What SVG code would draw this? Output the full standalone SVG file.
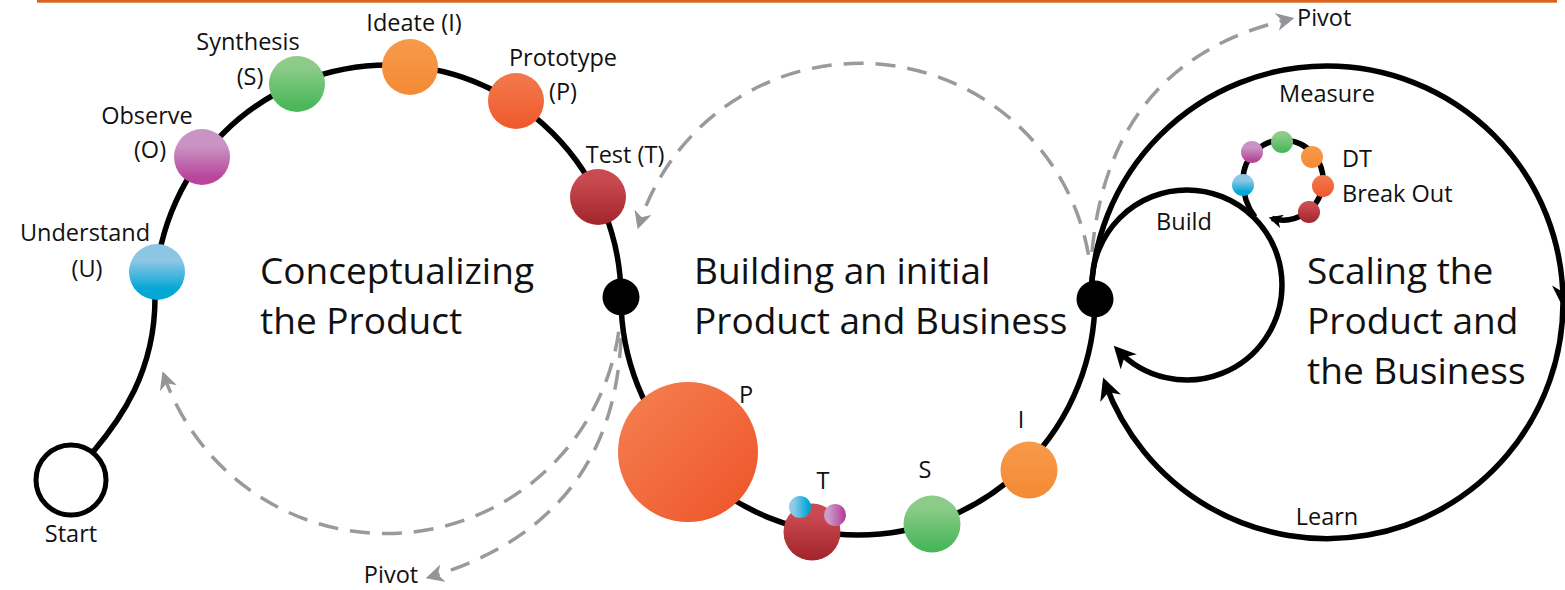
<svg xmlns="http://www.w3.org/2000/svg" width="1565" height="590" viewBox="0 0 1565 590">
<style>
.lbl{font-family:"Open Sans","Noto Sans","Liberation Sans",sans-serif;font-size:23.5px;fill:#111}
.ttl{font-family:"Open Sans","Noto Sans","Liberation Sans",sans-serif;font-size:37px;fill:#111}
.blk{fill:none;stroke:#000;stroke-width:5.5}
.dash{fill:none;stroke:#999a9c;stroke-width:3.5;stroke-dasharray:20 12}
.dot{fill:#000}
</style>
<defs>
<linearGradient id="gBlue" x1="0" y1="0.3" x2="0" y2="0.8"><stop offset="0" stop-color="#8dc6e4"/><stop offset="1" stop-color="#05a7d6"/></linearGradient>
<linearGradient id="gPurple" x1="0" y1="0.3" x2="0" y2="0.85"><stop offset="0" stop-color="#c994c5"/><stop offset="1" stop-color="#b8479b"/></linearGradient>
<linearGradient id="gGreen" x1="0" y1="0.2" x2="0" y2="0.9"><stop offset="0" stop-color="#8ccb88"/><stop offset="1" stop-color="#4bb75b"/></linearGradient>
<linearGradient id="gOrange" x1="0" y1="0" x2="0" y2="1"><stop offset="0" stop-color="#f79a4a"/><stop offset="1" stop-color="#f48a34"/></linearGradient>
<linearGradient id="gRedOr" x1="0" y1="0" x2="0" y2="1"><stop offset="0" stop-color="#f27a4c"/><stop offset="1" stop-color="#f0592c"/></linearGradient>
<linearGradient id="gRed" x1="0" y1="0.2" x2="0" y2="1"><stop offset="0" stop-color="#c94a50"/><stop offset="1" stop-color="#a2242c"/></linearGradient>
<linearGradient id="gBig" x1="0.15" y1="0.15" x2="0.85" y2="0.85"><stop offset="0" stop-color="#f47a4c"/><stop offset="1" stop-color="#ef5a2e"/></linearGradient>
<linearGradient id="gBlueH" x1="0" y1="0" x2="1" y2="0"><stop offset="0.2" stop-color="#8fcbe8"/><stop offset="0.9" stop-color="#00a5d5"/></linearGradient>
<linearGradient id="gPurpleH" x1="0" y1="0" x2="1" y2="0"><stop offset="0.2" stop-color="#cc9bca"/><stop offset="0.9" stop-color="#b5449a"/></linearGradient>
<marker id="arrG" viewBox="0 0 12 12" refX="9" refY="6" markerWidth="18" markerHeight="18" markerUnits="userSpaceOnUse" orient="auto">
<path d="M0,0 L12,6 L0,12 L3.5,6 z" fill="#939598"/>
</marker>
<marker id="arrB" viewBox="0 0 12 12" refX="9" refY="6" markerWidth="22" markerHeight="22" markerUnits="userSpaceOnUse" orient="auto">
<path d="M0,0 L12,6 L0,12 L3.5,6 z" fill="#000"/>
</marker>
<marker id="arrBs" viewBox="0 0 12 12" refX="9" refY="6" markerWidth="14" markerHeight="14" markerUnits="userSpaceOnUse" orient="auto">
<path d="M0,0 L12,6 L0,12 L3.5,6 z" fill="#000"/>
</marker>
</defs>
<rect width="1565" height="590" fill="#fff"/>
<rect x="37" y="0" width="1520" height="2.7" fill="#d9641e"/>

<g id="connectors">
<path class="dash" d="M1088.5 254.7 A232 232 0 0 0 639 225" marker-end="url(#arrG)"/>
<path class="dash" d="M618.7 331.7 A235 235 0 0 1 164 375.5" marker-end="url(#arrG)"/>
<path class="dash" d="M621 338 Q613 522 430 577" marker-end="url(#arrG)"/>
<path class="dash" d="M1092 252 Q1110 60 1290 19" marker-end="url(#arrG)"/>
<path class="blk" d="M93 452 C120 420 155 372 155 298 A233 233 0 0 1 621 298 A237 237 0 0 0 1095 298"/>
<path class="blk" d="M1091 302 A236 236 0 0 1 1563 302 A236 236 0 0 1 1105 382.7" marker-mid="url(#arrB)" marker-end="url(#arrB)"/>
<path class="blk" stroke-width="5" d="M1092 285 A95 95 0 0 1 1282 285 A95 95 0 0 1 1117.5 349.8" marker-end="url(#arrB)"/>
<path class="blk" stroke-width="3.5" d="M1255 217 C1248 208 1243 196 1243 180 A40 40 0 1 1 1272 218.5" marker-end="url(#arrBs)"/>
</g>

<g id="node-start">
<circle cx="71" cy="480" r="35" fill="#fff" stroke="#000" stroke-width="5"/>
<text class="lbl" x="71" y="542" text-anchor="middle">Start</text>
</g>
<g id="node-understand">
<circle cx="157" cy="272" r="28" fill="url(#gBlue)"/>
<text class="lbl" x="85" y="241" text-anchor="middle">Understand</text>
<text class="lbl" x="87" y="277" text-anchor="middle">(U)</text>
</g>
<g id="node-observe">
<circle cx="202" cy="157" r="28" fill="url(#gPurple)"/>
<text class="lbl" x="147" y="124" text-anchor="middle">Observe</text>
<text class="lbl" x="150" y="158" text-anchor="middle">(O)</text>
</g>
<g id="node-synthesis">
<circle cx="297" cy="84" r="28" fill="url(#gGreen)"/>
<text class="lbl" x="248" y="50" text-anchor="middle">Synthesis</text>
<text class="lbl" x="250" y="85" text-anchor="middle">(S)</text>
</g>
<g id="node-ideate">
<circle cx="410" cy="67" r="28" fill="url(#gOrange)"/>
<text class="lbl" x="414" y="31" text-anchor="middle">Ideate (I)</text>
</g>
<g id="node-prototype">
<circle cx="516" cy="101" r="28" fill="url(#gRedOr)"/>
<text class="lbl" x="563" y="66" text-anchor="middle">Prototype</text>
<text class="lbl" x="563" y="100" text-anchor="middle">(P)</text>
</g>
<g id="node-test">
<circle cx="598" cy="197" r="28" fill="url(#gRed)"/>
<text class="lbl" x="625" y="163" text-anchor="middle">Test (T)</text>
</g>
<g id="node-junction1"><circle class="dot" cx="621" cy="297" r="18.5"/></g>
<g id="node-junction2"><circle class="dot" cx="1095" cy="299" r="18.5"/></g>

<g id="node-p">
<circle cx="688" cy="452" r="70" fill="url(#gBig)"/>
<text class="lbl" x="746" y="403" text-anchor="middle">P</text>
</g>
<g id="node-t">
<circle cx="812" cy="532" r="28.5" fill="url(#gRed)"/>
<circle cx="800" cy="507" r="11" fill="url(#gBlueH)"/>
<circle cx="835" cy="515" r="11" fill="url(#gPurpleH)"/>
<text class="lbl" x="823" y="489" text-anchor="middle">T</text>
</g>
<g id="node-s">
<circle cx="932" cy="524" r="28.5" fill="url(#gGreen)"/>
<text class="lbl" x="925" y="478" text-anchor="middle">S</text>
</g>
<g id="node-i">
<circle cx="1029" cy="470" r="28.5" fill="url(#gOrange)"/>
<text class="lbl" x="1021" y="428" text-anchor="middle">I</text>
</g>

<g id="node-dt">
<circle cx="1243" cy="185" r="11" fill="url(#gBlue)"/>
<circle cx="1252" cy="152" r="11" fill="url(#gPurple)"/>
<circle cx="1282" cy="142" r="11" fill="url(#gGreen)"/>
<circle cx="1312" cy="157" r="11" fill="url(#gOrange)"/>
<circle cx="1323" cy="186" r="11" fill="url(#gRedOr)"/>
<circle cx="1309" cy="212" r="11" fill="url(#gRed)"/>
<text class="lbl" x="1342" y="167">DT</text>
<text class="lbl" x="1342" y="202">Break Out</text>
</g>

<g id="labels">
<text class="ttl" x="260" y="284">Conceptualizing</text>
<text class="ttl" x="260" y="334">the Product</text>
<text class="ttl" x="694" y="284">Building an initial</text>
<text class="ttl" x="694" y="334">Product and Business</text>
<text class="ttl" x="1307" y="284">Scaling the</text>
<text class="ttl" x="1307" y="334">Product and</text>
<text class="ttl" x="1307" y="384">the Business</text>
<text class="lbl" x="1327" y="102" text-anchor="middle">Measure</text>
<text class="lbl" x="1184" y="230" text-anchor="middle">Build</text>
<text class="lbl" x="1327" y="525" text-anchor="middle">Learn</text>
<text class="lbl" x="1297" y="26">Pivot</text>
<text class="lbl" x="391" y="583" text-anchor="middle">Pivot</text>
</g>
</svg>
